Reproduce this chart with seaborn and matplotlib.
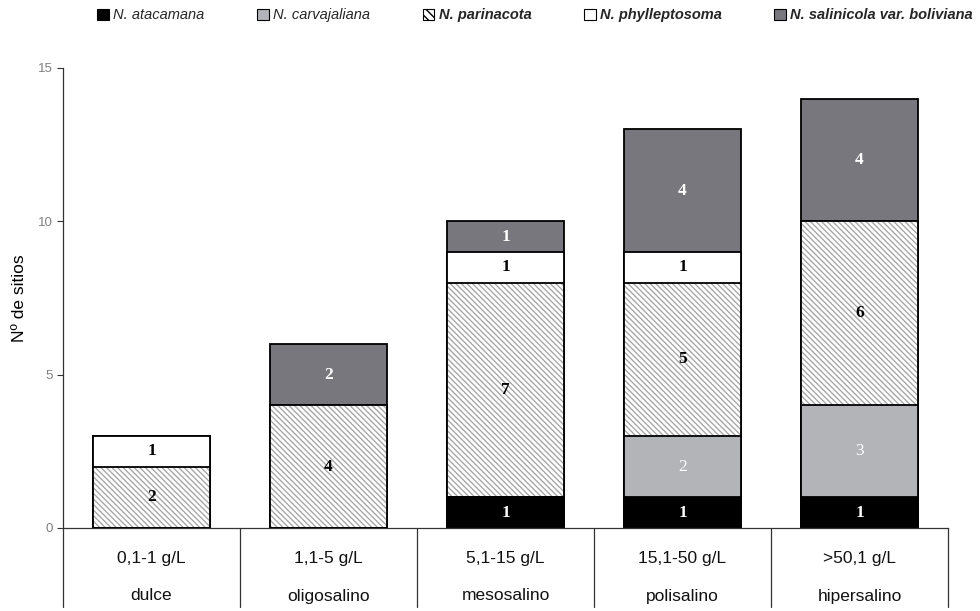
import matplotlib
matplotlib.use("Agg")
import matplotlib.pyplot as plt
import seaborn as sns
import pandas as pd
import numpy as np
from matplotlib.patches import Patch

rangos = ["0,1-1 g/L", "1,1-5 g/L", "5,1-15 g/L", "15,1-50 g/L", ">50,1 g/L"]
clases = ["dulce", "oligosalino", "mesosalino", "polisalino", "hipersalino"]
especies = ["N. atacamana", "N. carvajaliana", "N. parinacota",
            "N. phylleptosoma", "N. salinicola var. boliviana"]
atacamana = [0, 0, 1, 1, 1]
carvajaliana = [0, 0, 0, 2, 3]
parinacota = [2, 4, 7, 5, 6]
phylleptosoma = [1, 0, 1, 1, 0]
salinicola = [0, 2, 1, 4, 4]

series = [atacamana, carvajaliana, parinacota, phylleptosoma, salinicola]
colores = ["#000000", "#b3b4b8", "#ffffff", "#ffffff", "#77777d"]
hatches = [None, None, "\\" * 6, None, None]
label_col = ["white", "white", "black", "black", "white"]
label_bold = ["bold", "normal", "bold", "bold", "bold"]

sns.set_theme(style="white")
plt.rcParams["font.family"] = ["Liberation Sans", "DejaVu Sans"]
plt.rcParams["hatch.linewidth"] = 1.0

fig = plt.figure(figsize=(9.8, 6.11), dpi=100)
ax = fig.add_axes([63/980, 83/611, (948-63)/980, (528-68)/611])

cum = np.cumsum(np.array(series), axis=0)
W = 0.66
# draw from top cumulative down so lower segments overlay
for i in range(len(series)-1, -1, -1):
    df = pd.DataFrame({"cat": rangos, "val": cum[i]})
    if hatches[i]:
        sns.barplot(data=df, x="cat", y="val", order=rangos, color=colores[i],
                    saturation=1, width=W, edgecolor="#a8a8a8", linewidth=0,
                    hatch=hatches[i], ax=ax)
        sns.barplot(data=df, x="cat", y="val", order=rangos, fill=False,
                    width=W, edgecolor="black", linewidth=1.3, ax=ax)
    else:
        sns.barplot(data=df, x="cat", y="val", order=rangos, color=colores[i],
                    saturation=1, width=W, edgecolor="black", linewidth=1.3, ax=ax)

# labels
for i, s in enumerate(series):
    base = cum[i] - np.array(s)
    for j, v in enumerate(s):
        if v > 0:
            ax.text(j, base[j] + v/2, str(v), ha="center", va="center",
                    color=label_col[i], fontweight=label_bold[i], fontsize=12.5,
                    family=["Liberation Serif", "DejaVu Serif"])

ax.set_xlim(-0.5, 4.5)
ax.set_ylim(0, 15)
ax.set_yticks([0, 5, 10, 15])
ax.tick_params(axis="y", colors="#808080", labelsize=9.5, length=4, width=0.8,
               left=True, direction="out")
ax.tick_params(axis="y", color="#333333")
ax.set_xticks([])
ax.set_xlabel("")
ax.set_ylabel("Nº de sitios", fontsize=12.5, color="black", labelpad=8)
for sp in ["top", "right"]:
    ax.spines[sp].set_visible(False)
ax.spines["left"].set_color("#333333")
ax.spines["bottom"].set_color("#333333")
ax.spines["left"].set_linewidth(0.9)
ax.spines["bottom"].set_linewidth(0.9)

# table below axis
ybot = -(607 - 528) / (460 / 15)
for xb in [-0.5, 0.5, 1.5, 2.5, 3.5, 4.5]:
    ax.plot([xb, xb], [0, ybot], color="#333333", lw=0.9, clip_on=False)
for j in range(5):
    ax.text(j, -(558 - 528) / (460 / 15), rangos[j], ha="center", va="center",
            fontsize=12.5, color="#111111")
    ax.text(j, -(596 - 528) / (460 / 15), clases[j], ha="center", va="center",
            fontsize=12.5, color="#111111")

# legend
handles = []
for i in range(5):
    handles.append(Patch(facecolor=colores[i], edgecolor="black", linewidth=0.8,
                         hatch=("\\" * 4 if hatches[i] else None)))
leg = fig.legend(handles, especies, loc="center", bbox_to_anchor=(0.546, 0.975),
                 ncol=5, frameon=False, fontsize=10.5, handlelength=0.8,
                 handleheight=0.8, handletextpad=0.3, columnspacing=3.6)
for k, t in enumerate(leg.get_texts()):
    t.set_style("italic")
    if k >= 2:
        t.set_fontweight("bold")

fig.savefig("out.png", dpi=100)
